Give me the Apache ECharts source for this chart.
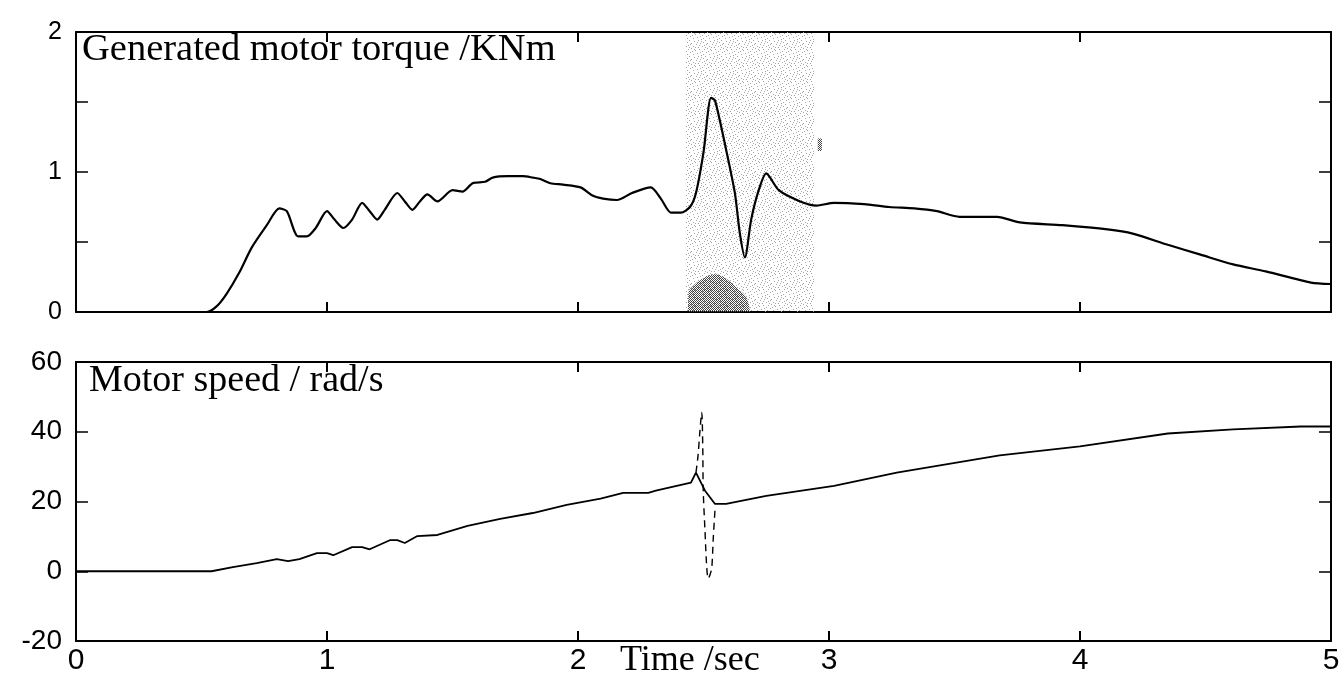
<!DOCTYPE html>
<html>
<head>
<meta charset="utf-8">
<script src="https://cdn.jsdelivr.net/npm/echarts@6/dist/echarts.min.js"></script>
<style>
  html, body { margin: 0; padding: 0; background: #fff; }
  #chart { width: 1344px; height: 676px; }
</style>
</head>
<body>
<div id="chart"></div>
<script>
// Generated motor torque (kNm) against time (s)
const torqueTime = [0, 0.52, 0.56, 0.60, 0.65, 0.70, 0.76, 0.81, 0.84, 0.885, 0.92, 0.955, 1.00, 1.03,
  1.065, 1.10, 1.14, 1.17, 1.20, 1.23, 1.28, 1.31, 1.34, 1.37, 1.40, 1.44, 1.50, 1.54, 1.58, 1.63,
  1.66, 1.72, 1.78, 1.82, 1.85, 1.89, 1.94, 2.01, 2.06, 2.10, 2.155, 2.215, 2.29, 2.33, 2.37, 2.41,
  2.446, 2.47, 2.50, 2.53, 2.546, 2.59, 2.625, 2.645, 2.665, 2.69, 2.72, 2.75, 2.80, 2.885, 2.95,
  3.02, 3.14, 3.24, 3.34, 3.43, 3.52, 3.67, 3.76, 3.93, 4.11, 4.21, 4.35, 4.48, 4.61, 4.74, 4.92, 5.00];
const torqueValue = [0, 0, 0.04, 0.13, 0.28, 0.46, 0.62, 0.74, 0.72, 0.54, 0.54, 0.60, 0.72, 0.66,
  0.60, 0.66, 0.78, 0.72, 0.66, 0.73, 0.85, 0.79, 0.73, 0.79, 0.84, 0.79, 0.87, 0.86, 0.92, 0.93,
  0.96, 0.97, 0.97, 0.96, 0.95, 0.92, 0.91, 0.89, 0.83, 0.81, 0.80, 0.85, 0.89, 0.81, 0.71, 0.71,
  0.75, 0.85, 1.14, 1.53, 1.51, 1.16, 0.85, 0.56, 0.39, 0.66, 0.87, 0.99, 0.87, 0.79, 0.76,
  0.78, 0.77, 0.75, 0.74, 0.72, 0.68, 0.68, 0.64, 0.62, 0.59, 0.56, 0.48, 0.41, 0.34, 0.29, 0.21, 0.20];

// Dense patch at the foot of the transient window
const patchTime = [2.438, 2.440, 2.46, 2.49, 2.52, 2.55, 2.58, 2.61, 2.64, 2.665, 2.68, 2.685];
const patchValue = [0, 0.14, 0.19, 0.23, 0.26, 0.27, 0.25, 0.21, 0.16, 0.12, 0.06, 0];

// Motor speed (rad/s) against time (s)
const speedTime = [0, 0.54, 0.625, 0.72, 0.80, 0.845, 0.89, 0.96, 1.00, 1.025, 1.10, 1.14, 1.17, 1.25,
  1.28, 1.31, 1.36, 1.44, 1.56, 1.69, 1.82, 1.955, 2.09, 2.18, 2.28, 2.31, 2.45, 2.47, 2.506, 2.546,
  2.59, 2.75, 3.02, 3.27, 3.68, 4.00, 4.35, 4.61, 4.88, 5.00];
const speedValue = [0, 0, 1.2, 2.3, 3.5, 2.9, 3.5, 5.2, 5.2, 4.6, 6.9, 6.9, 6.3, 8.9,
  8.9, 8.1, 10.1, 10.4, 13.0, 15.0, 16.7, 19.0, 20.8, 22.5, 22.5, 23.1, 25.4, 28.3, 23.1, 19.3,
  19.3, 21.6, 24.5, 28.3, 33.2, 35.8, 39.5, 40.7, 41.5, 41.5];

// Dashed speed excursion during the transient
const spikeTime = [2.470, 2.478, 2.486, 2.493, 2.497, 2.499, 2.506, 2.513, 2.519, 2.526, 2.533, 2.539, 2.546];
const spikeValue = [28.3, 33.0, 40.4, 45.5, 36.0, 23.1, 11.5, 1.0, -2.1, -1.0, 1.0, 9.6, 17.8];

// Transient window on the torque panel (s)
const windowSpan = [2.43, 2.94];

const zip = (xs, ys) => xs.map((x, i) => [x, ys[i]]);

// stipple textures for the shaded regions
function stipple(size, dots, color) {
  const c = document.createElement('canvas');
  c.width = size; c.height = size;
  const g = c.getContext('2d');
  g.fillStyle = color;
  dots.forEach(d => g.fillRect(d[0], d[1], 1, 1));
  return c;
}
const lightDots = stipple(16, [[0,1],[3,0],[7,2],[11,1],[14,3],[2,4],[5,6],[9,5],[13,7],[1,8],[6,9],
  [10,8],[15,10],[3,11],[8,12],[12,11],[0,13],[5,14],[10,15],[14,14],[7,15],[4,3],[12,4],[2,12],
  [9,10],[15,6],[6,1],[11,13],[1,15],[13,9]], '#a4a4a4');
const darkDots = stipple(4, [[0,0],[2,0],[1,1],[3,1],[0,2],[2,2],[1,3],[3,3]], '#444');

const sans = "'Liberation Sans', Arial, sans-serif";
const serif = "'Liberation Serif', 'Times New Roman', serif";
const black = '#000';

function xAx(grid, pos, labels) {
  return {
    type: 'value', gridIndex: grid, position: pos, min: 0, max: 5, interval: 1,
    axisLine: { show: true, onZero: false, lineStyle: { color: black, width: 2 } },
    axisTick: { show: true, inside: true, length: 10, lineStyle: { color: black, width: 2 } },
    axisLabel: { show: labels, color: black, fontFamily: sans, fontSize: 30, margin: 5 },
    splitLine: { show: false }
  };
}
function yAx(grid, pos, min, max, step, labels, size, lift, fmt) {
  return {
    type: 'value', gridIndex: grid, position: pos, min: min, max: max, interval: step,
    axisLine: { show: true, onZero: false, lineStyle: { color: black, width: 2 } },
    axisTick: { show: true, inside: true, length: 12, lineStyle: { color: black, width: 1.5 } },
    axisLabel: { show: labels, color: black, fontFamily: sans, fontSize: size, margin: 14,
      padding: [0, 0, lift, 0], formatter: fmt },
    splitLine: { show: false }
  };
}

const chart = echarts.init(document.getElementById('chart'), null, { renderer: 'canvas' });
chart.setOption({
  backgroundColor: '#fff',
  animation: false,
  title: [
    { text: 'Generated motor torque /KNm', left: 82, top: 30, padding: 0,
      textStyle: { fontFamily: serif, fontSize: 38.5, fontWeight: 'normal', color: black } },
    { text: 'Motor speed / rad/s', left: 89, top: 362, padding: 0,
      textStyle: { fontFamily: serif, fontSize: 38, fontWeight: 'normal', color: black } },
    { text: 'Time /sec', left: 620, top: 643, padding: 0,
      textStyle: { fontFamily: serif, fontSize: 36, fontWeight: 'normal', color: black } }
  ],
  grid: [
    { left: 76, top: 32, width: 1255, height: 280 },
    { left: 76, top: 362, width: 1255, height: 279 }
  ],
  xAxis: [
    xAx(0, 'bottom', false), xAx(0, 'top', false),
    xAx(1, 'bottom', true), xAx(1, 'top', false)
  ],
  yAxis: [
    yAx(0, 'left', 0, 2, 0.5, true, 25, 10, v => (v % 1 === 0 ? String(v) : '')),
    yAx(0, 'right', 0, 2, 0.5, false, 25, 0),
    yAx(1, 'left', -20, 60, 20, true, 28, 14),
    yAx(1, 'right', -20, 60, 20, false, 28, 0)
  ],
  series: [
    {
      name: 'window', type: 'line', xAxisIndex: 0, yAxisIndex: 0, data: [], silent: true,
      markArea: {
        silent: true,
        itemStyle: { color: { image: lightDots, repeat: 'repeat' } },
        data: [
          [{ xAxis: windowSpan[0], yAxis: 0 }, { xAxis: windowSpan[1], yAxis: 2 }],
          [{ xAxis: 2.955, yAxis: 1.15, itemStyle: { color: { image: darkDots, repeat: 'repeat' } } },
           { xAxis: 2.972, yAxis: 1.24 }]
        ]
      }
    },
    {
      name: 'patch', type: 'line', xAxisIndex: 0, yAxisIndex: 0, smooth: 0.4, symbol: 'none',
      silent: true, lineStyle: { width: 0 },
      areaStyle: { color: { image: darkDots, repeat: 'repeat' }, opacity: 1 },
      data: zip(patchTime, patchValue)
    },
    {
      name: 'torque', type: 'line', xAxisIndex: 0, yAxisIndex: 0, smooth: 0.25, symbol: 'none',
      lineStyle: { color: black, width: 2.2 },
      data: zip(torqueTime, torqueValue)
    },
    {
      name: 'speed', type: 'line', xAxisIndex: 2, yAxisIndex: 2, symbol: 'none',
      lineStyle: { color: black, width: 1.8 },
      data: zip(speedTime, speedValue)
    },
    {
      name: 'speed transient', type: 'line', xAxisIndex: 2, yAxisIndex: 2, smooth: 0.3, symbol: 'none',
      lineStyle: { color: black, width: 1.4, type: [7, 5] },
      data: zip(spikeTime, spikeValue)
    }
  ]
});
</script>
</body>
</html>
